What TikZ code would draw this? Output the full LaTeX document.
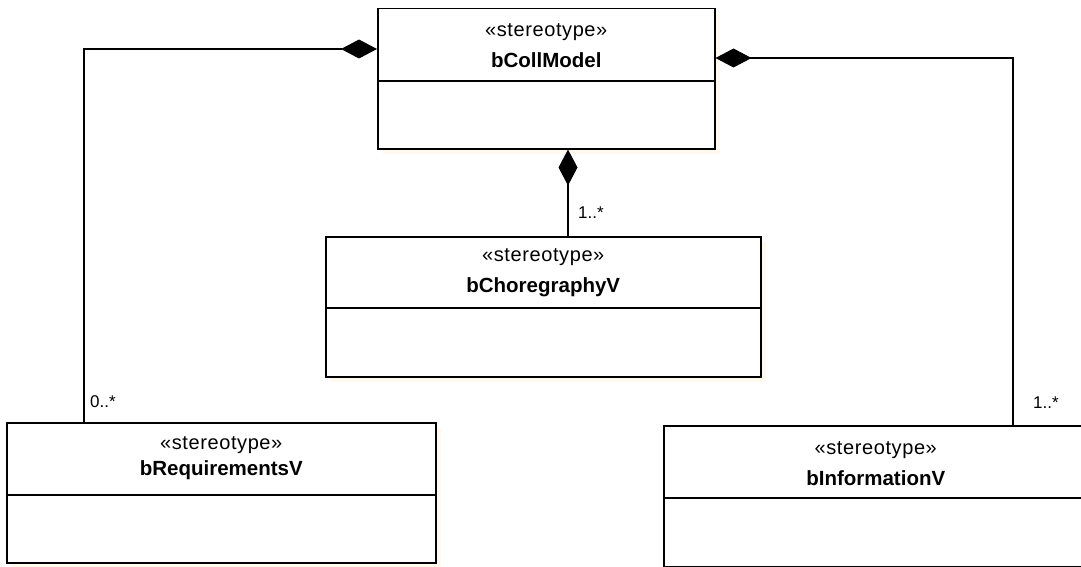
\documentclass[tikz,border=0pt]{standalone}
\usepackage{fontspec}
\setmainfont{Liberation Sans}
\usetikzlibrary{arrows.meta,calc}
\definecolor{shadowcol}{RGB}{255,249,238}
\begin{document}
\begin{tikzpicture}[x=1pt,y=-1pt,
  classbox/.style={draw=black, line width=1.5pt, fill=white, inner sep=0pt, anchor=north west},
  shadowbox/.style={fill=shadowcol, inner sep=0pt, anchor=north west},
  stereo/.style={font=\fontsize{20}{24}\selectfont\addfontfeature{LetterSpace=3}},
  cname/.style={font=\fontsize{20.5}{24}\selectfont\bfseries},
  mult/.style={font=\fontsize{17}{20}\selectfont, anchor=west, inner sep=0pt},
  divider/.style={draw=black, line width=1.5pt},
  assoc/.style={draw=black, line width=1.3pt, {Diamond[length=36pt,width=19pt]}-}
]
\useasboundingbox (0,0) rectangle (1081,567);

% soft shadows behind the classes
\node[shadowbox, minimum width=337pt, minimum height=140pt] at (383,14) {};
\node[shadowbox, minimum width=435pt, minimum height=140pt] at (331,242) {};
\node[shadowbox, minimum width=429pt, minimum height=140pt] at (12,428) {};
\node[shadowbox, minimum width=424pt, minimum height=141pt] at (669,431) {};

% class boxes
\node[classbox, minimum width=337pt, minimum height=140pt] (cm) at (377,8) {};
\node[classbox, minimum width=435pt, minimum height=140pt] (ch) at (325,236) {};
\node[classbox, minimum width=429pt, minimum height=140pt] (rq) at (6,422) {};
\node[classbox, minimum width=424pt, minimum height=141pt] (inf) at (663,425) {};

% compartment dividers
\draw[divider] ([yshift=-73pt]cm.north west) -- ([yshift=-73pt]cm.north east);
\draw[divider] ([yshift=-72pt]ch.north west) -- ([yshift=-72pt]ch.north east);
\draw[divider] ([yshift=-73pt]rq.north west) -- ([yshift=-73pt]rq.north east);
\draw[divider] ([yshift=-73pt]inf.north west) -- ([yshift=-73pt]inf.north east);

% class names
\node[stereo] (cm-st) at ($(cm.north)+(0,24)$) {«stereotype»};
\node[cname]  (cm-nm) at ($(cm.north)+(0,52)$) {bCollModel};
\node[stereo] (ch-st) at ($(ch.north)+(0,21)$) {«stereotype»};
\node[cname]  (ch-nm) at ($(ch.north)+(0,51)$) {bChoregraphyV};
\node[stereo] (rq-st) at ($(rq.north)+(0,23)$) {«stereotype»};
\node[cname]  (rq-nm) at ($(rq.north)+(0,48)$) {bRequirementsV};
\node[stereo] (inf-st) at ($(inf.north)+(0,25)$) {«stereotype»};
\node[cname]  (inf-nm) at ($(inf.north)+(0,53)$) {bInformationV};

% composition associations
\draw[assoc] ([yshift=-41pt]cm.north west) -| ([xshift=78pt]rq.north west);
\draw[assoc] ([yshift=-50pt]cm.north east) -| ([xshift=350pt]inf.north west);
\draw[assoc] ([xshift=191pt]cm.south west) -- ([xshift=243pt]ch.north west);

% multiplicities
\node[mult] (m-ch) at ($(ch.north west)+(253,-23)$) {1..*};
\node[mult] (m-rq) at ($(rq.north west)+(84,-20)$) {0..*};
\node[mult] (m-inf) at ($(inf.north west)+(370,-22)$) {1..*};
\end{tikzpicture}
\end{document}
